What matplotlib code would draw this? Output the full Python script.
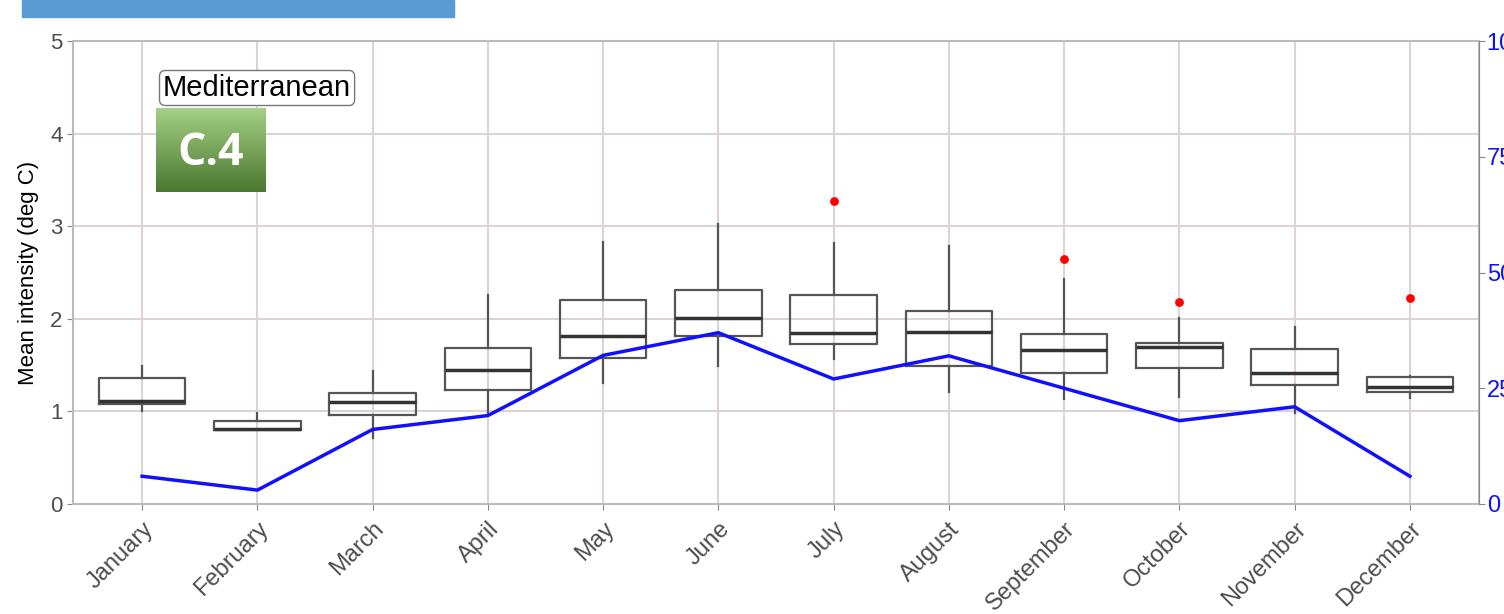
import numpy as np
import matplotlib
matplotlib.use("Agg")
import matplotlib.pyplot as plt
from matplotlib.patches import Rectangle

plt.rcParams['font.family'] = ['Liberation Sans', 'DejaVu Sans']

months = ["January", "February", "March", "April", "May", "June", "July",
          "August", "September", "October", "November", "December"]
box_q1 = [1.08, 0.80, 0.96, 1.23, 1.58, 1.81, 1.73, 1.49, 1.42, 1.47, 1.29, 1.21]
box_med = [1.11, 0.81, 1.10, 1.45, 1.81, 2.01, 1.85, 1.86, 1.66, 1.70, 1.41, 1.26]
box_q3 = [1.36, 0.90, 1.20, 1.69, 2.20, 2.31, 2.26, 2.08, 1.84, 1.74, 1.67, 1.37]
whisk_lo = [1.00, 0.80, 0.71, 0.96, 1.31, 1.49, 1.57, 1.21, 1.13, 1.16, 0.98, 1.14]
whisk_hi = [1.49, 0.98, 1.44, 2.26, 2.83, 3.02, 2.82, 2.79, 2.43, 2.01, 1.91, 1.38]
outliers = [[], [], [], [], [], [], [3.27], [], [2.65], [2.18], [], [2.23]]
count_line = [6.0, 3.0, 16.1, 19.1, 32.1, 37.0, 27.0, 32.0, 25.0, 18.0, 21.0, 6.0]

fig = plt.figure(figsize=(15.04, 6.14), dpi=100)
W, H = 1504, 614
ax = fig.add_axes([73 / W, 110 / H, (1479 - 73) / W, 463 / H])

stats = []
for i in range(len(months)):
    stats.append(dict(med=box_med[i], q1=box_q1[i], q3=box_q3[i],
                      whislo=whisk_lo[i], whishi=whisk_hi[i], fliers=[]))
pos = np.arange(len(months))
ax.bxp(stats, positions=pos, widths=0.75, showcaps=False, showfliers=False,
       boxprops=dict(color='#555555', linewidth=1.6),
       whiskerprops=dict(color='#555555', linewidth=1.6),
       medianprops=dict(color='#333333', linewidth=2.5), zorder=3)
for i, pts in enumerate(outliers):
    if pts:
        ax.scatter([pos[i]] * len(pts), pts, s=40, color='red', zorder=4, linewidths=0)

ax.set_xlim(-0.6, 11.6)
ax.set_ylim(0, 5)
ax.set_yticks([0, 1, 2, 3, 4, 5])
ax.set_xticks(pos)
ax.set_xticklabels(months, rotation=45, ha='right', rotation_mode='anchor')
ax.grid(True, color='#dcd3d6', linewidth=1.5, zorder=0)
ax.set_axisbelow(True)
ax.tick_params(axis='both', colors='#888888', labelcolor='#4d4d4d', labelsize=16, length=4)
ax.tick_params(axis='x', pad=6, labelsize=17)
ax.set_ylabel("Mean intensity (deg C)", fontsize=16, color='black', labelpad=8)
for s in ax.spines.values():
    s.set_color('#bbbbbb')
    s.set_linewidth(1.5)

ax2 = ax.twinx()
ax2.plot(pos, count_line, color='#1010ff', linewidth=2.5, zorder=5)
ax2.set_ylim(0, 100)
ax2.set_yticks([0, 25, 50, 75, 100])
ax2.tick_params(axis='y', colors='#888888', labelcolor='#1010ff', labelsize=17,
                length=4, pad=1.5)
ax2.spines['right'].set_color('#888888')
for k in ['left', 'top', 'bottom']:
    ax2.spines[k].set_visible(False)

# region label
fig.text(163 / W, 1 - 88 / H, "Mediterranean", fontsize=21, va='center', ha='left',
         bbox=dict(boxstyle='round,pad=0.12,rounding_size=0.2', fc='white', ec='#777777', lw=1))

# green gradient badge
bax = fig.add_axes([156 / W, 1 - 192 / H, 110 / W, 84 / H])
grad = np.linspace(0, 1, 100).reshape(-1, 1)
top = np.array([0.65, 0.82, 0.53])
bot = np.array([0.29, 0.47, 0.18])
img = top[None, None, :] * (1 - grad[:, :, None]) + bot[None, None, :] * grad[:, :, None]
bax.imshow(img, aspect='auto', extent=[0, 1, 0, 1])
bax.set_axis_off()
bax.text(0.5, 0.46, "C.4", color='white', fontsize=32, fontweight='bold',
         ha='center', va='center', family=['Open Sans', 'DejaVu Sans'], transform=bax.transAxes)

# header banner (cut off at top)
fig.patches.append(Rectangle((22 / W, 1 - 17 / H), (454 - 22) / W, 17 / H,
                             transform=fig.transFigure, color='#5b9bd5', zorder=0))

fig.savefig("out.png", dpi=100)
